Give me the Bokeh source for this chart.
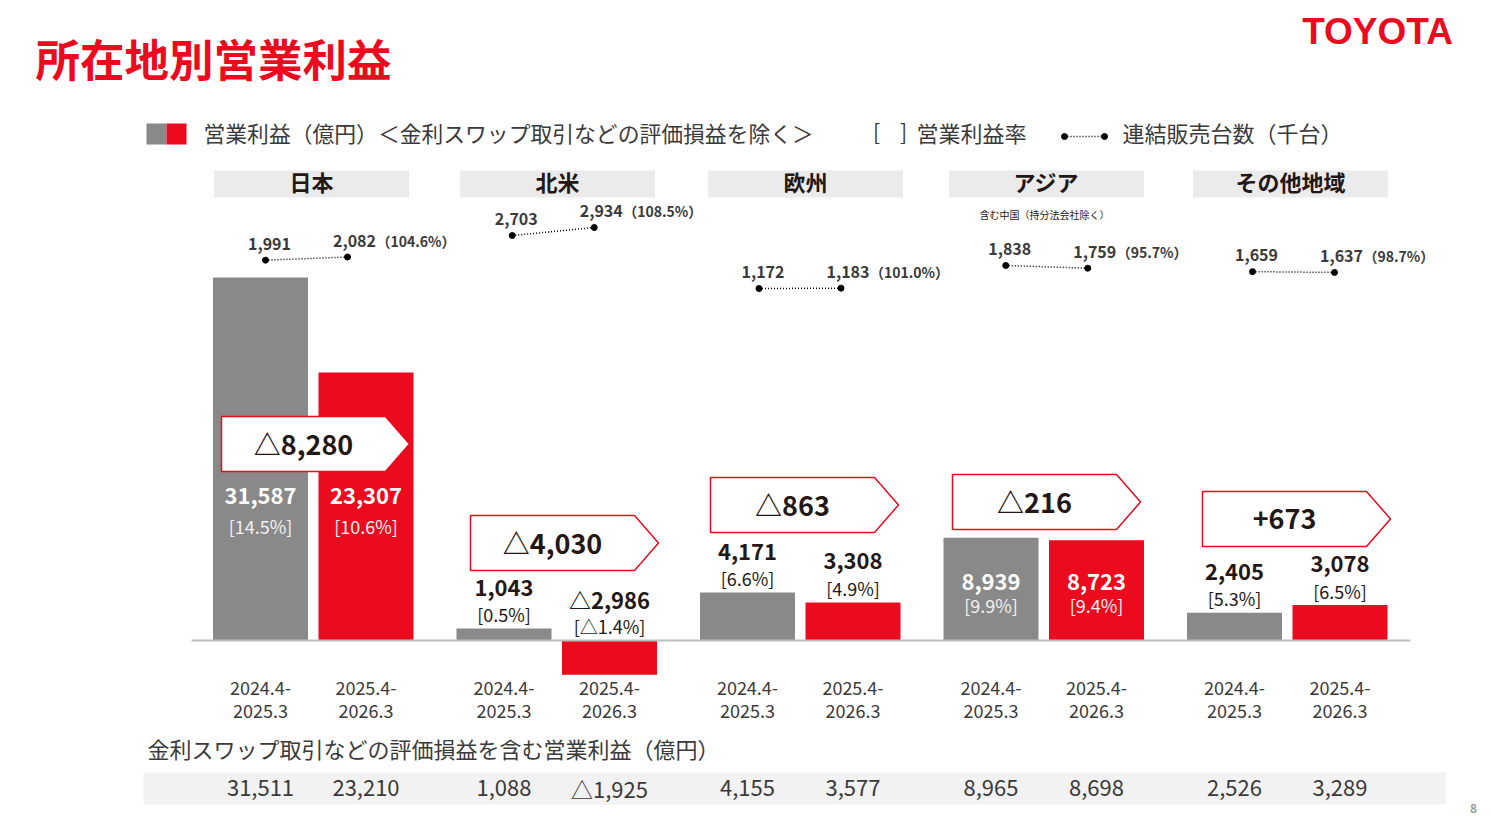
from bokeh.plotting import figure
from bokeh.models import Range1d
from bokeh.core.properties import value
from bokeh.embed import file_html
from bokeh.resources import INLINE

# ---------------- data ----------------
regions = ["日本", "北米", "欧州", "アジア", "その他地域"]
period_prev = ["2024.4-", "2025.3"]
period_curr = ["2025.4-", "2026.3"]
op_prev = [31587, 1043, 4171, 8939, 2405]          # 営業利益 2024.4-2025.3 (億円)
op_curr = [23307, -2986, 3308, 8723, 3078]         # 営業利益 2025.4-2026.3 (億円)
margin_prev = [14.5, 0.5, 6.6, 9.9, 5.3]
margin_curr = [10.6, -1.4, 4.9, 9.4, 6.5]
op_change = [-8280, -4030, -863, -216, 673]
sales_prev = [1991, 2703, 1172, 1838, 1659]        # 連結販売台数 (千台)
sales_curr = [2082, 2934, 1183, 1759, 1637]
sales_ratio = [104.6, 108.5, 101.0, 95.7, 98.7]
op_incl_prev = [31511, 1088, 4155, 8965, 2526]
op_incl_curr = [23210, -1925, 3577, 8698, 3289]

# ---------------- styles / layout ----------------
W, H = 1491, 817
RED = "#EB0A1E"
GRAY = "#898989"
DARK = "#231815"
TXT = "#3A3A3A"
JP = "Noto Sans CJK JP"
TEXT_LIFT = -2.5     # screen px offset applied to every text

BASE_PX = 640.0      # pixel row of the zero line
VPP = 87.0           # operating-profit units per pixel
SALES_ZERO_PX = 328.6
SPP = 28.885         # sales units per pixel


def vy(px):
    return (BASE_PX - px) * VPP


def sy(px):
    return (SALES_ZERO_PX - px) * SPP


GROUP0, GROUP_STEP = 260.0, 243.5
BAR_W, BAR_GAP = 95, 105.5
gray_x = [GROUP0 + i * GROUP_STEP for i in range(5)]
red_x = [x + BAR_GAP for x in gray_x]
head_x = [311, 557, 805, 1046, 1290]
dot_left = [265 + 246.75 * i for i in range(5)]
dot_right = [x + 82 for x in dot_left]
callout_pos = [(221, 416), (470, 515), (710, 477), (952, 474), (1202, 491)]
inside_lbl = {0: (497, 528), 3: (583, 607)}


def fmt(v):
    return ("△" if v < 0 else "") + f"{abs(v):,}"


def fmt_chg(v):
    return ("△" if v < 0 else "+") + f"{abs(v):,}"


def fmt_pct(m):
    return "[" + ("△" if m < 0 else "") + f"{abs(m):.1f}%" + "]"


p = figure(width=W, height=H, x_range=Range1d(0, W), y_range=Range1d(vy(H), vy(0)),
           output_backend="svg", toolbar_location=None, min_border=0)
p.extra_y_ranges = {"sales": Range1d(sy(H), sy(0))}
p.xaxis.visible = False
p.yaxis.visible = False
p.grid.visible = False
p.outline_line_color = None
p.background_fill_color = "white"
p.border_fill_color = "white"


def txt(x, y, s, size, color, align="center", baseline="middle", bold=False,
        font=JP, yr=None):
    if not isinstance(x, list):
        x, y, s = [x], [y], [s]
    kw = {}
    if yr:
        kw["y_range_name"] = yr
    p.text(x=x, y=y, text=s, text_font=value(font), text_font_size=f"{size}px",
           text_color=color, text_align=align, text_baseline=baseline,
           text_font_style="bold" if bold else "normal", y_offset=TEXT_LIFT, **kw)


# ---------------- title & logo ----------------
txt(35, vy(59), "所在地別営業利益", 44.5, RED, align="left", bold=True)
txt(1377, vy(33), "TOYOTA", 37, RED, bold=True, font="Liberation Sans")

# ---------------- legend ----------------
p.quad(left=[146], right=[166], top=[vy(123)], bottom=[vy(144)], color=GRAY, line_color=None)
p.quad(left=[166], right=[186], top=[vy(123)], bottom=[vy(144)], color=RED, line_color=None)
txt(203, vy(134), "営業利益（億円）＜金利スワップ取引などの評価損益を除く＞", 21.8, TXT, align="left")
txt(876, vy(133), "[", 21, TXT)
txt(903, vy(133), "]", 21, TXT)
txt(916, vy(134), "営業利益率", 22, TXT, align="left")
p.segment(x0=[1064], y0=[vy(136)], x1=[1104], y1=[vy(136)], line_color="black",
          line_width=1.5, line_dash="1 2")
p.scatter(x=[1064, 1104], y=[vy(136)] * 2, size=6, color="black")
txt(1122, vy(134), "連結販売台数（千台）", 22, TXT, align="left")

# ---------------- region headers ----------------
p.quad(left=[x - 97.5 for x in head_x], right=[x + 97.5 for x in head_x],
       top=[vy(170)] * 5, bottom=[vy(197)] * 5, color="#EBEBEB", line_color=None)
txt(head_x, [vy(183)] * 5, regions, 22, DARK, bold=True)
txt(1044, vy(216), "含む中国（持分法会社除く）", 10, DARK)

# ---------------- sales units ----------------
p.segment(x0=dot_left, y0=sales_prev, x1=dot_right, y1=sales_curr, y_range_name="sales",
          line_color="black", line_width=1.5, line_dash="1 2")
p.scatter(x=dot_left + dot_right, y=sales_prev + sales_curr, size=6, color="black",
          y_range_name="sales")
txt([x + 4 for x in dot_left], [s + 14 * SPP for s in sales_prev],
    [f"{s:,}" for s in sales_prev], 16, TXT, bold=True, yr="sales")
txt([x + 7 for x in dot_right], [s + 14 * SPP for s in sales_curr],
    [f"{s:,}" for s in sales_curr], 16, TXT, bold=True, yr="sales")
txt([x + 29 for x in dot_right], [s + 14 * SPP for s in sales_curr],
    [f"（{r:.1f}%）" for r in sales_ratio], 14, TXT, align="left", bold=True, yr="sales")

# ---------------- bars ----------------
p.vbar(x=gray_x, top=op_prev, bottom=0, width=BAR_W, color=GRAY, line_color=None)
p.vbar(x=red_x, top=op_curr, bottom=0, width=BAR_W, color=RED, line_color=None)
p.segment(x0=[191], y0=[0], x1=[1410], y1=[0], line_color="#BFBFBF", line_width=2)

# ---------------- bar labels ----------------
for i in range(5):
    for xs, vals, mgs in ((gray_x, op_prev, margin_prev), (red_x, op_curr, margin_curr)):
        v, m, x = vals[i], mgs[i], xs[i]
        if i in inside_lbl:
            py1, py2 = inside_lbl[i]
            txt(x, vy(py1), fmt(v), 22, "white", bold=True)
            txt(x, vy(py2), fmt_pct(m), 18, "#F2F2F2")
        else:
            top = max(v, 0)
            txt(x, top + 39 * VPP, fmt(v), 22, DARK, bold=True)
            txt(x, top + 12 * VPP, fmt_pct(m), 18, DARK)

# ---------------- change callouts ----------------
CW, CH, TIP = 188, 55, 24
xs_list, ys_list = [], []
for (l, t) in callout_pos:
    xs_list.append([l, l + CW - TIP, l + CW, l + CW - TIP, l])
    ys_list.append([vy(t), vy(t), vy(t + CH / 2), vy(t + CH), vy(t + CH)])
p.patches(xs=xs_list, ys=ys_list, fill_color="white", line_color=RED, line_width=1.5)
txt([l + (CW - TIP) / 2 for (l, t) in callout_pos],
    [vy(t + CH / 2 + 2) for (l, t) in callout_pos],
    [fmt_chg(c) for c in op_change], 27, DARK, bold=True)

# ---------------- period labels ----------------
txt(gray_x + red_x, [vy(690)] * 10, [period_prev[0]] * 5 + [period_curr[0]] * 5, 18, TXT)
txt(gray_x + red_x, [vy(713)] * 10, [period_prev[1]] * 5 + [period_curr[1]] * 5, 18, TXT)

# ---------------- bottom table ----------------
txt(147, vy(750), "金利スワップ取引などの評価損益を含む営業利益（億円）", 22, TXT, align="left")
p.quad(left=[143], right=[1445], top=[vy(772)], bottom=[vy(804)], color="#F2F2F2", line_color=None)
txt(gray_x + red_x, [vy(790)] * 10, [fmt(v) for v in op_incl_prev + op_incl_curr], 22, TXT)
txt(1473, vy(815), "8", 12, "#9A9A9A", baseline="bottom", bold=True)

open("out.html", "w").write(file_html(p, INLINE))
